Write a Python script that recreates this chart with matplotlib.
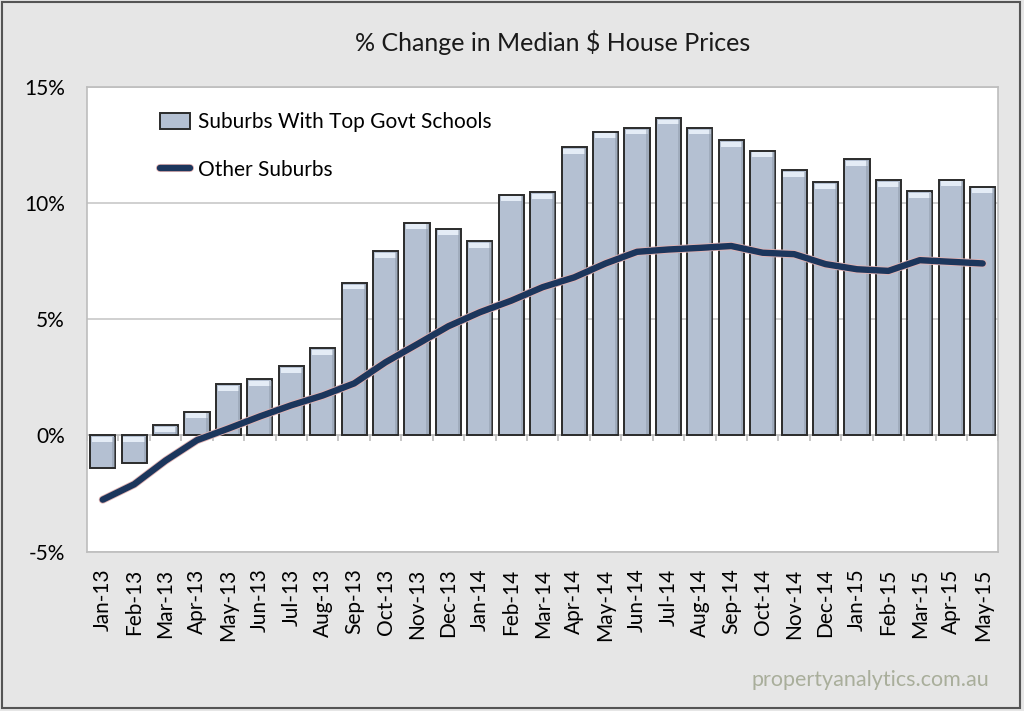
import numpy as np
import matplotlib
matplotlib.use("Agg")
import matplotlib.pyplot as plt
import matplotlib.patheffects as pe
from matplotlib.patches import Rectangle

plt.rcParams['font.family'] = ['Lato', 'DejaVu Sans']

months = ['Jan-13', 'Feb-13', 'Mar-13', 'Apr-13', 'May-13', 'Jun-13', 'Jul-13', 'Aug-13',
          'Sep-13', 'Oct-13', 'Nov-13', 'Dec-13', 'Jan-14', 'Feb-14', 'Mar-14', 'Apr-14',
          'May-14', 'Jun-14', 'Jul-14', 'Aug-14', 'Sep-14', 'Oct-14', 'Nov-14', 'Dec-14',
          'Jan-15', 'Feb-15', 'Mar-15', 'Apr-15', 'May-15']

# Suburbs with top govt schools (bars), % change
top_schools = [-1.4, -1.2, 0.43, 1.03, 2.2, 2.41, 2.97, 3.76,
               6.56, 7.93, 9.15, 8.9, 8.36, 10.35, 10.46, 12.4,
               13.07, 13.23, 13.66, 13.23, 12.7, 12.25, 11.4, 10.9,
               11.88, 10.97, 10.5, 11.0, 10.7]

# Other suburbs (line), % change
other = [-2.76, -2.1, -1.08, -0.2, 0.3, 0.82, 1.3, 1.72,
         2.24, 3.15, 3.92, 4.7, 5.3, 5.8, 6.38, 6.8,
         7.4, 7.9, 8.0, 8.07, 8.15, 7.86, 7.8, 7.37,
         7.15, 7.08, 7.54, 7.47, 7.4]

yticks = [-5, 0, 5, 10, 15]

fig = plt.figure(figsize=(10.24, 7.11), dpi=100, facecolor='#e6e6e6')
ax = fig.add_axes([0.085, 0.224, 0.89, 0.654])

x = np.arange(len(months))
w = 0.8
bar_face = '#b4c0d2'
ax.bar(x, top_schools, width=w, color=bar_face, edgecolor='#2b2b2b',
       linewidth=1.4, zorder=3, label='Suburbs With Top Govt Schools')

# bevel look: light band along the top edge, darker strip on the right
hl = 0.28
for xi, v in zip(x, top_schools):
    top = max(v, 0)
    ax.add_patch(Rectangle((xi - w / 2 + 0.06, top - hl), w - 0.12, hl * 0.75,
                           facecolor='#e4ecf6', edgecolor='none', zorder=4))
    lo, hi = min(v, 0), max(v, 0)
    ax.add_patch(Rectangle((xi + w / 2 - 0.1, lo + 0.05), 0.08, hi - lo - 0.1,
                           facecolor='#8e99aa', edgecolor='none', alpha=0.5, zorder=4))

ax.plot(x, other, color='#1c365c', lw=4.6, solid_capstyle='round', solid_joinstyle='round',
        zorder=5, label='Other Suburbs',
        path_effects=[pe.Stroke(linewidth=5.8, foreground='#e3b4b4'), pe.Normal()])

ax.set_xlim(-0.5, len(months) - 0.5)
ax.set_ylim(-5, 15)
ax.set_yticks(yticks)
ax.set_yticklabels([f'{t}%' for t in yticks], fontsize=15)
ax.set_xticks(x)
ax.set_xticklabels(months, rotation=90, fontsize=15)
ax.tick_params(axis='both', length=0, pad=16)
ax.tick_params(axis='x', pad=12)
ax.grid(axis='y', color='#c8c8c8', lw=1.2, zorder=0)
ax.set_axisbelow(True)
for s in ax.spines.values():
    s.set_color('#bdbdbd')
    s.set_linewidth(1.2)

# category tick marks on the zero line
ax.axhline(0, color='#bdbdbd', lw=1.2, zorder=2)
ax.vlines(np.arange(len(months) + 1) - 0.5, -0.25, 0, color='#bdbdbd', lw=1.2, zorder=2)

handles, labels = ax.get_legend_handles_labels()
order = [labels.index('Suburbs With Top Govt Schools'), labels.index('Other Suburbs')]
ax.legend([handles[i] for i in order], [labels[i] for i in order],
          loc='upper left', bbox_to_anchor=(0.06, 0.985), frameon=False,
          fontsize=15, handlelength=1.4, handleheight=0.8, labelspacing=1.3,
          handletextpad=0.4)

fig.text(0.54, 0.94, '% Change in Median $ House Prices', ha='center', va='center',
         fontsize=18, color='#1a1a1a')
fig.text(0.966, 0.043, 'propertyanalytics.com.au', ha='right', va='center',
         fontsize=15.5, color='#a9ae9b')

fig.patches.append(Rectangle((0.002, 0.004), 0.994, 0.993, transform=fig.transFigure,
                             facecolor='none', edgecolor='#555555', lw=1.5))

fig.savefig('out.png', dpi=100, facecolor=fig.get_facecolor())
